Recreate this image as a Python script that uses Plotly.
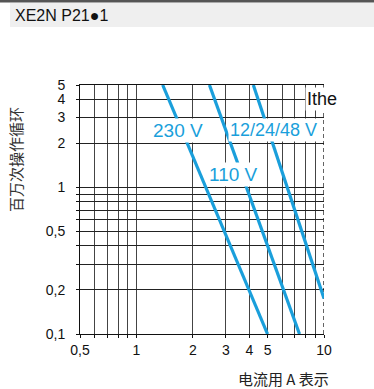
import math
import plotly.graph_objects as go

# ---------------- data ----------------
x_grid_vals = [0.5, 0.6, 0.7, 0.8, 0.9, 1, 2, 3, 4, 5, 6, 7, 8, 9]
x_grid_text = ["0,5", "", "", "", "", "1", "2", "3", "4", "5", "", "", "", ""]
x_ithe = [10]
x_ithe_text = ["10"]

y_grid_vals = [0.1, 0.2, 0.3, 0.4, 0.5, 0.6, 0.7, 0.8, 0.9, 1, 2, 3, 4, 5]
y_grid_text = ["0,1", "0,2", "", "", "0,5", "", "", "", "", "1", "2", "3", "4", "5"]

series_names = ["230 V", "110 V", "12/24/48 V"]
current_230 = [1.38, 5.0]
cycles_230 = [5, 0.1]
current_110 = [2.45, 7.4]
cycles_110 = [5, 0.1]
current_low = [4.2, 10]
cycles_low = [5, 0.175]

ithe_current = [10, 10]
ithe_cycles = [0.1, 5]

x_title = "电流用 A 表示"
y_title = "百万次操作循环"
header = "XE2N P21●1"

# ---------------- style ----------------
BLUE = "#1a9fdb"
LAT = "Liberation Sans, Arial, sans-serif"
CJK = "Noto Sans CJK SC, sans-serif"

L, R, T, B = 80, 50, 85, 55
W, H = 374, 389
PW = W - L - R
PH = H - T - B


def px(xp):
    return (xp - L) / PW


def py(yp):
    return (H - B - yp) / PH


fig = go.Figure()

fig.add_trace(go.Scatter(x=ithe_current, y=ithe_cycles, mode="lines",
                         line=dict(color="#111", width=1.3, dash="4px,3px"),
                         hoverinfo="skip", showlegend=False))

for xs, ys in [(current_230, cycles_230), (current_110, cycles_110), (current_low, cycles_low)]:
    fig.add_trace(go.Scatter(x=xs, y=ys, mode="lines",
                             line=dict(color=BLUE, width=3.2),
                             showlegend=False, cliponaxis=True))

# invisible trace for overlay axis
fig.add_trace(go.Scatter(x=[10], y=[1], xaxis="x2", mode="markers",
                         marker=dict(opacity=0), showlegend=False, hoverinfo="skip"))

xr = [math.log10(0.5), 1]
yr = [-1, math.log10(5)]

fig.update_layout(
    width=W, height=H,
    margin=dict(l=L, r=R, t=T, b=B),
    paper_bgcolor="white", plot_bgcolor="white",
    xaxis=dict(type="log", range=xr, tickvals=x_grid_vals, ticktext=x_grid_text,
               showgrid=True, gridcolor="#444", gridwidth=1,
               showline=True, linecolor="#111", linewidth=1, mirror=True,
               ticks="outside", ticklen=3, tickcolor="#111",
               tickfont=dict(family=LAT, size=14, color="#111"),
               zeroline=False, fixedrange=True),
    xaxis2=dict(type="log", range=xr, overlaying="x", side="bottom",
                tickvals=x_ithe, ticktext=x_ithe_text, showgrid=False,
                ticks="outside", ticklen=3, tickcolor="#111",
                tickfont=dict(family=LAT, size=14, color="#111"),
                showline=False, zeroline=False, fixedrange=True),
    yaxis=dict(type="log", range=yr, tickvals=y_grid_vals, ticktext=y_grid_text,
               showgrid=True, gridcolor="#222", gridwidth=1,
               showline=True, linecolor="#111", linewidth=1, mirror=False,
               ticks="outside", ticklen=3, tickcolor="#111", ticklabelstandoff=8,
               tickfont=dict(family=LAT, size=14, color="#111"),
               zeroline=False, fixedrange=True),
)

annotations = [
    dict(text=series_names[0], x=math.log10(1.67), y=math.log10(2.43), xref="x", yref="y",
         showarrow=False, font=dict(family=LAT, size=19, color=BLUE), bgcolor="white",
         xanchor="center", yanchor="middle", borderpad=1),
    dict(text=series_names[1], x=math.log10(3.31), y=math.log10(1.22), xref="x", yref="y",
         showarrow=False, font=dict(family=LAT, size=19, color=BLUE), bgcolor="white",
         xanchor="center", yanchor="middle", borderpad=1),
    dict(text=series_names[2], x=math.log10(5.38), y=math.log10(2.46), xref="x", yref="y",
         showarrow=False, font=dict(family=LAT, size=18, color=BLUE), bgcolor="white",
         xanchor="center", yanchor="middle", borderpad=1),
    dict(text="Ithe", x=math.log10(7.9), y=math.log10(4), xref="x", yref="y",
         showarrow=False, font=dict(family=LAT, size=18, color="#111"), bgcolor="white",
         xanchor="left", yanchor="middle", borderpad=1),
    dict(text=y_title, x=px(15), y=py(160), xref="paper", yref="paper",
         showarrow=False, textangle=-90, font=dict(family=CJK, size=15, color="#333"),
         xanchor="center", yanchor="middle"),
    dict(text=x_title, x=px(331), y=py(378), xref="paper", yref="paper",
         showarrow=False, font=dict(family=CJK, size=15, color="#222"),
         xanchor="right", yanchor="middle"),
    dict(text=header, x=px(13), y=py(15), xref="paper", yref="paper",
         showarrow=False, font=dict(family=LAT, size=16, color="#111"),
         xanchor="left", yanchor="middle"),
]
fig.update_layout(annotations=annotations)

fig.update_layout(shapes=[
    dict(type="rect", xref="paper", yref="paper", x0=px(10), x1=px(374), y0=py(27), y1=py(3),
         fillcolor="#efefef", line=dict(width=0), layer="below"),
    dict(type="line", xref="paper", yref="paper", x0=px(0), x1=px(374), y0=py(1.2), y1=py(1.2),
         line=dict(color="#555", width=2.4)),
])

fig.write_html("out.html", config={"displayModeBar": False},
               post_script="document.body.style.margin='0';document.body.style.overflow='hidden';")
